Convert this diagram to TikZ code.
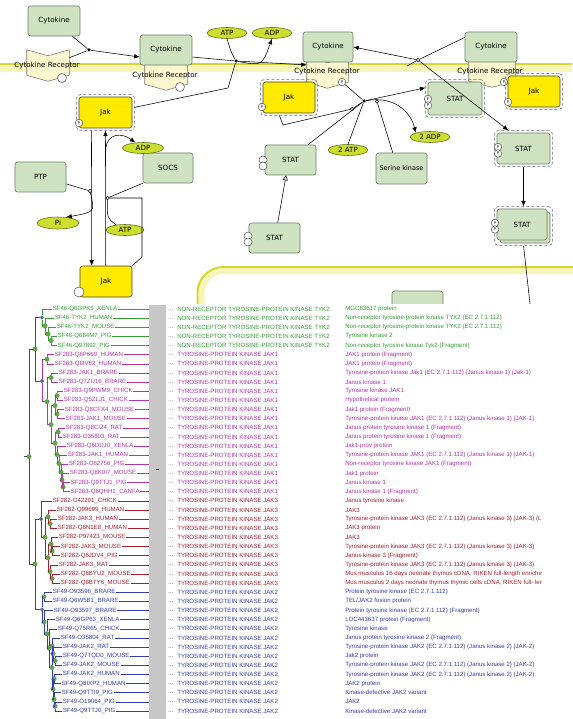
\documentclass[tikz,border=0pt]{standalone}
\usepackage{fontspec}
\setmainfont{DejaVu Sans}
\newfontfamily\tabfont{Liberation Sans}
\usetikzlibrary{positioning,arrows.meta,shapes.geometric,calc,fit}

\definecolor{protfill}{RGB}{207,227,195}
\definecolor{boxline}{RGB}{105,125,100}
\definecolor{jakfill}{RGB}{255,234,0}
\definecolor{molfill}{RGB}{204,222,46}
\definecolor{molline}{RGB}{95,105,25}
\definecolor{rcpfill}{RGB}{253,247,207}
\definecolor{memdark}{RGB}{214,214,52}
\definecolor{memlight}{RGB}{246,246,186}
\definecolor{greycol}{RGB}{200,200,200}
\definecolor{tykc}{RGB}{52,160,52}
\definecolor{jak1c}{RGB}{178,52,170}
\definecolor{jak3c}{RGB}{166,32,44}
\definecolor{jak2c}{RGB}{52,62,178}
\definecolor{dotgreen}{RGB}{86,176,52}
\definecolor{dotblue}{RGB}{52,104,204}

\newcommand{\pwfont}{\fontsize{7.1}{8}\selectfont}
\newcommand{\tabsize}{\tabfont\fontsize{6.1}{7}\selectfont}

\tikzset{
protnode/.style={rectangle, rounded corners=2.5pt, draw=boxline, fill=protfill, minimum width=52pt, minimum height=30pt, inner sep=0pt, font=\pwfont},
jaknode/.style={protnode, fill=jakfill, draw=black!75},
molnode/.style={ellipse, draw=molline, fill=molfill, minimum width=40pt, minimum height=11pt, inner sep=0pt, font=\pwfont},
rcpbox/.style={rectangle, inner sep=0pt, minimum width=42pt, minimum height=31pt},
rcpt/.style={draw=black!55, fill=rcpfill},
rcplbl/.style={font=\pwfont, inner sep=0pt},
dashframe/.style={draw=black!60, densely dashed, rounded corners=3pt, inner sep=2pt},
phos/.style={circle, draw=black!65, fill=white, inner sep=0pt, minimum size=7.5pt, font=\fontsize{3.8}{4}\selectfont},
emptysite/.style={circle, draw=black!65, fill=white, inner sep=0pt, minimum size=8pt},
rxdot/.style={circle, fill=black, inner sep=0pt, minimum size=3.5pt},
rxopen/.style={circle, draw=black, fill=white, inner sep=0pt, minimum size=3.5pt, line width=0.4pt},
leaflbl/.style={anchor=west, inner sep=0.5pt, font=\tabsize},
collbl/.style={anchor=west, inner sep=0pt, font=\tabsize},
gdot/.style={circle, fill=dotgreen, draw=black!55, line width=0.3pt, inner sep=0pt, minimum size=4.5pt},
bdot/.style={circle, fill=dotblue, draw=black!55, line width=0.3pt, inner sep=0pt, minimum size=3.8pt},
>={Latex[width=4.5pt,length=5.5pt]}
}

% receptor outline drawn round an empty box node
\newcommand{\rcpshape}[1]{%
\path[rcpt] (#1.north west) -- ($(#1.north)+(0,6)$) -- (#1.north east) -- ($(#1.south east)+(0,-6)$) -- (#1.south) -- ($(#1.south west)+(0,-6)$) -- cycle;}

% one family of rows in the table
\newcommand{\famrows}[3]{%
\foreach \i/\lx/\lbl/\desc in {#3}{%
  \pgfmathsetmacro{\ry}{309+(\i-1)*9.136}
  \node[leaflbl, text=#1] (r\i) at(\lx,\ry) {\lbl};
  \node[collbl, text=#1] (e\i) at(168,\ry+0.8) {...};
  \node[collbl, text=#1] (c\i) at(177,\ry) {#2};
  \node[collbl, text=#1] (d\i) at(345,\ry) {\desc};
  \draw[#1, line width=0.5pt] (r\i.east) -- (r\i.east -| gcol.west);
}}

\begin{document}
\begin{tikzpicture}[x=1pt, y=-1pt, line width=0.55pt]
\useasboundingbox (0,0) rectangle (572,719);

%Membranes
\fill[memlight] (0,63.5) rectangle (572,72);
\draw[memdark, line width=1.8pt] (0,64.4) -- (572,64.4);
\draw[memlight, line width=6pt, rounded corners=22pt] (201.5,330) |- (580,271);
\draw[memdark, line width=2pt, rounded corners=26pt] (197.5,330) |- (580,267);

%Receptors
\node[rcpbox] (rec1) at(48,65.5) {};
\node[rcpbox] (rec2) at(166,74.5) {};
\node[rcpbox, minimum width=41pt] (rec3) at(327.5,72.5) {};
\node[rcpbox, minimum width=46pt] (rec4) at(492,71.5) {};
\foreach \r in {rec1,rec2,rec3,rec4} \rcpshape{\r};

%Cytokines
\node[protnode] (cyt1) at(54,21) {Cytokine};
\node[protnode] (cyt2) at(166,50) {Cytokine};
\node[protnode, minimum width=50pt] (cyt3) at(328,47) {Cytokine};
\node[protnode] (cyt4) at(491,47) {Cytokine};

\node[rcplbl] (rl1) at(47,66) {Cytokine Receptor};
\node[rcplbl] (rl2) at(165,76) {Cytokine Receptor};
\node[rcplbl] (rl3) at(327,72) {Cytokine Receptor};
\node[rcplbl] (rl4) at(490,72) {Cytokine Receptor};

\node[emptysite, minimum size=9pt] (rs1) at(62,78) {};
\node[emptysite, minimum size=9pt] (rs2) at(180,87) {};
\node[phos] (rp3) at(342,82) {P};
\node[phos] (rp4) at(504,82) {P};

%Jak
\node[jaknode, minimum width=53pt, minimum height=31pt] (jak1) at(105.5,112.5) {Jak};
\node[jaknode, minimum height=31pt] (jak2) at(289,97.5) {Jak};
\node[jaknode, minimum height=31pt] (jak3) at(534,91.5) {Jak};
\node[jaknode, minimum height=31pt] (jak4) at(106,281.5) {Jak};
\node[dashframe, fit=(jak1)] (jak1o) {};
\node[dashframe, fit=(jak2)] (jak2o) {};
\node[dashframe, fit=(jak3)] (jak3o) {};
\node[phos] (jak1p) at(79,123) {P};
\node[phos] (jak2p) at(262,107) {P};
\node[phos] (jak3p) at(508,102) {P};
\node[emptysite, minimum size=10pt] (jak4s) at(79,292) {};

%STAT
\node[protnode, minimum width=54pt, minimum height=33pt] (stat1) at(455,98.5) {STAT};
\node[protnode, minimum width=51pt] (stat2) at(290.5,160) {STAT};
\node[protnode, minimum width=51pt] (stat3) at(274.5,238) {STAT};
\node[protnode, minimum width=53pt, minimum height=31pt] (stat4) at(523.5,148.5) {STAT};
\node[protnode, minimum width=50pt, minimum height=31pt] (stat5b) at(525,227.5) {};
\node[protnode, minimum width=50pt, minimum height=31pt] (stat5) at(522,224.5) {STAT};
\node[dashframe, fit=(stat1)] (stat1o) {};
\node[dashframe, fit=(stat4)] (stat4o) {};
\node[dashframe, fit=(stat5)(stat5b)] (stat5o) {};
\node[phos] (s1a) at(428,99) {P};
\node[phos] (s1b) at(428,105.5) {P};
\node[phos] (s4a) at(498,147) {P};
\node[phos] (s4b) at(498,153.5) {P};
\node[phos] (s5a) at(495,223) {P};
\node[phos] (s5b) at(495,229.5) {P};
\node[emptysite] (s2a) at(263,160) {};
\node[emptysite] (s2b) at(263,166) {};
\node[emptysite] (s3a) at(248,236) {};
\node[emptysite] (s3b) at(248,242) {};

%Other proteins
\node[protnode, minimum width=50pt] (socs) at(168,168) {SOCS};
\node[protnode, minimum width=51pt] (ptp) at(40.5,177) {PTP};
\node[protnode, minimum width=51pt, minimum height=31pt, font=\fontsize{6.5}{8}\selectfont] (serk) at(401.5,168.5) {Serine kinase};
\node[protnode, minimum width=51pt] (pias) at(417.5,306) {};

%Small molecules
\node[molnode] (atp1) at(227,33) {ATP};
\node[molnode] (adp1) at(272,33) {ADP};
\node[molnode, minimum width=41pt] (adp2) at(143,148) {ADP};
\node[molnode, minimum width=38pt] (atp2) at(125,230) {ATP};
\node[molnode, minimum width=42pt, minimum height=12pt] (phosi) at(58,223) {Pi};
\node[molnode] (adp3) at(430,137) {2 ADP};
\node[molnode] (atp3) at(348,150) {2 ATP};

% links between the two Jak boxes
\draw[->] ([xshift=15pt]jak1o.south west) -- ([xshift=12pt]jak4.north west);
\draw[->] ([xshift=26pt]jak4.north west) -- ([xshift=29pt]jak1o.south west);

%Reaction points
\node[rxdot] (d1) at(89,50) {};
\node[rxdot] (d2) at(236,61) {};
\node[rxdot] (d3) at(364,101) {};
\node[rxopen] (o1) at(418,60) {};
\node[rxopen] (o2) at(377,101.5) {};
\node[rxopen] (o3) at(352,109) {};
\node[rxopen] (o4) at(90,191) {};
\node[rxopen] (o5) at(107.5,198) {};
\coordinate (k1) at(228,88);
\coordinate (k2) at(283,125);
\coordinate (k3) at(142,198);
\coordinate (k4) at(142,257);
\coordinate (m1) at(407,66);
\coordinate (m2) at(530,304);
\coordinate (c1) at(106,147);

% binding and phosphorylation
\draw (cyt1) -- (d1);
\draw (rec1.20) -- (d1);
\draw[->] (d1) -- (cyt2.195);
\draw (cyt2.345) -- (d2);
\draw[->] (d2) -- (rec3.160);
\draw (atp1.south) .. controls (231,52) .. (d2);
\draw[->] (d2) .. controls (262,66) .. (adp1.south);
\draw (jak1o.10) -- (k1) -- (d2);

\draw (cyt4.160) -- (o1);
\draw[->] (o1) -- (cyt3.east);
\draw[->] (o1) -- (stat4o.130);
\draw (o1) -- (m1);

\draw (rp3) -- (d3);
\draw[->] (d3) -- (stat1o.160);
\draw[->] (d3) .. controls (398,95) and (412,116) .. (adp3.north west);
\draw (atp3.north) -- (d3);
\draw (stat2.41) -- (d3);
\draw (serk.119) -- (o2);
\draw (jak2o.242) -- (k2) -- (o3) -- (d3);

\draw[->] (stat4o.south) -- (stat5o.north);
\draw (stat5o.south) -- (m2);
\draw[-{Triangle[open,width=5pt,length=5pt]}] (stat3.78) -- (stat2.254);

% SOCS and PTP
\draw (socs.south west) -- (o5);
\draw (o5) -- (k3) -- (k4) -- (jak4.north east);
\draw (o5) .. controls (107,218) .. (atp2.150);
\draw[->] (c1) .. controls (108,134) and (121,132) .. (adp2.145);
\draw (ptp.345) -- (o4);
\draw[->] (o4) .. controls (95,212) .. (phosi.35);

%Table window
\fill[white] (0,304) rectangle (572,719);
\node[fill=greycol, inner sep=0pt, minimum width=17pt, minimum height=414pt, anchor=north west] (gcol) at(149,305) {};
\fill[black!70] (156,468.6) rectangle (158.6,469.6);

\famrows{tykc}{NON-RECEPTOR TYROSINE-PROTEIN KINASE TYK2}{
1/52/SF46-Q6GPK5\_XENLA/MGC83617 protein,
2/54/SF46-TYK2\_HUMAN/Non-receptor tyrosine-protein kinase TYK2 (EC 2.7.1.112),
3/56/SF46-TYK2\_MOUSE/Non-receptor tyrosine-protein kinase TYK2 (EC 2.7.1.112),
4/57/SF46-Q684M7\_PIG/Tyrosine kinase 2,
5/57/SF46-Q97892\_PIG/Non-receptor tyrosine kinase Tyk2 (Fragment)}

\famrows{jak1c}{TYROSINE-PROTEIN KINASE JAK1}{
6/54/SF283-Q6P669\_HUMAN/JAK1 protein (Fragment),
7/54/SF283-Q8IV82\_HUMAN/JAK1 protein (Fragment),
8/58/SF283-JAK1\_BRARE/Tyrosine-protein kinase Jak1 (EC 2.7.1.112) (Janus kinase 1) (Jak-1),
9/58/SF283-Q7ZU16\_BRARE/Janus kinase 1,
10/63/SF283-Q9PWM9\_CHICK/Tyrosine kinase JAK1,
11/63/SF283-Q5ZLJ1\_CHICK/Hypothetical protein,
12/64/SF283-Q8CFX4\_MOUSE/Jak1 protein (Fragment),
13/65/SF283-JAK1\_MOUSE/Tyrosine-protein kinase JAK1 (EC 2.7.1.112) (Janus kinase 1) (JAK-1),
14/65/SF283-Q8CIZ4\_RAT/Janus protein tyrosine kinase 1 (Fragment),
15/62/SF283-O35803\_RAT/Janus protein tyrosine kinase 1 (Fragment),
16/66/SF283-Q6DDJ0\_XENLA/Jak1-prov protein,
17/67/SF283-JAK1\_HUMAN/Tyrosine-protein kinase JAK1 (EC 2.7.1.112) (Janus kinase 1) (JAK-1),
18/68/SF283-O62756\_PIG/Non-receptor tyrosine kinase JAK1 (Fragment),
19/69/SF283-Q8K0I7\_MOUSE/Jak1 protein,
20/70/SF283-Q9TTJ1\_PIG/Janus kinase 1,
21/70/SF283-Q6QHH1\_CANFA/Janus kinase 1 (Fragment)}

\famrows{jak3c}{TYROSINE-PROTEIN KINASE JAK3}{
22/52/SF282-O42291\_CHICK/Janus tyrosine kinase,
23/56/SF282-Q99699\_HUMAN/JAK3,
24/57/SF282-JAK3\_HUMAN/Tyrosine-protein kinase JAK3 (EC 2.7.1.112) (Janus kinase 3) (JAK-3) (L,
25/57/SF282-Q8N1E8\_HUMAN/JAK3 protein,
26/58/SF282-P97423\_MOUSE/JAK3,
27/60/SF282-JAK3\_MOUSE/Tyrosine-protein kinase JAK3 (EC 2.7.1.112) (Janus kinase 3) (JAK-3),
28/60/SF282-Q6JDV4\_PIG/Janus kinase 3 (Fragment),
29/58/SF282-JAK3\_RAT/Tyrosine-protein kinase JAK3 (EC 2.7.1.112) (Janus kinase 3) (JAK-3),
30/60/SF282-Q8BYU2\_MOUSE/{Mus musculus 16 days neonate thymus cDNA, RIKEN full-length enriche},
31/60/SF282-Q8BTY6\_MOUSE/{Mus musculus 2 days neonate thymus thymic cells cDNA, RIKEN full- ler}}

\famrows{jak2c}{TYROSINE-PROTEIN KINASE JAK2}{
32/52/SF49-O93596\_BRARE/Protein tyrosine kinase (EC 2.7.1.112),
33/52/SF49-Q6W5B1\_BRARE/{TEL/JAK2 fusion protein},
34/53/SF49-O93597\_BRARE/Protein tyrosine kinase (EC 2.7.1.112) (Fragment),
35/55/SF49-Q6GP63\_XENLA/LOC443637 protein (Fragment),
36/57/SF49-Q75R65\_CHICK/Tyrosine kinase,
37/60/SF49-O35804\_RAT/Janus protein tyrosine kinase 2 (Fragment),
38/62/SF49-JAK2\_RAT/Tyrosine-protein kinase JAK2 (EC 2.7.1.112) (Janus kinase 2) (JAK-2),
39/62/SF49-Q7TQD0\_MOUSE/Jak2 protein,
40/62/SF49-JAK2\_MOUSE/Tyrosine-protein kinase JAK2 (EC 2.7.1.112) (Janus kinase 2) (JAK-2),
41/62/SF49-JAK2\_HUMAN/Tyrosine-protein kinase JAK2 (EC 2.7.1.112) (Janus kinase 2) (JAK-2),
42/61/SF49-Q8IXP2\_HUMAN/JAK2 protein,
43/61/SF49-Q9TTI9\_PIG/Kinase-defective JAK2 variant,
44/62/SF49-O19064\_PIG/JAK2,
45/62/SF49-Q9TTJ0\_PIG/Kinase-defective JAK2 variant}

%Tree nodes
\foreach \n/\px/\py in {t1/45/326, t2/48/334, t3/51/340.5,
  ja/47/359.3, jb/47/401.7, jc/51/377.5, jd/51/424.5, je/55/405.5, jf/57/395.7, jg/57/414,
  jh/55/443.3, ji/58/432, jj/57/454.5, jk/59/463.5, jl/61/472, jm/62/480, jn/63/487,
  ka/45/537.3, kb/48/516.8, kc/50/523.6, kd/48/557.8, ke/51/544, kf/52/551, kg/50/571.6, kh/52/578.5,
  ma/44/596.7, mb/44/622, mc/47/633.8, md/49/648, me/52/667.5, mf/52/646, mg/53/653.5,
  mh/55/660.6, mi/53/689, mj/54/678.9, mk/54/699.5, ml/55/706.3,
  nA/35/349, nB/35/564, root/29/456.5}
  \node[gdot] (\n) at(\px,\py) {};
\foreach \n/\px/\py in {t0/42/317.5, j0/42/381, k0/41/519, m0/42/609.4}
  \node[bdot] (\n) at(\px,\py) {};
\coordinate (stub) at(24,456.5);

%Tree branches
\foreach \a/\b in {stub/root, root/nA, root/nB, nA/t0, nA/j0, nB/k0, nB/m0}
  \draw[black!70, line width=0.5pt] (\a) |- (\b);
\foreach \a/\b in {t0/r1, t0/t1, t1/r2, t1/t2, t2/r3, t2/t3, t3/r4, t3/r5}
  \draw[tykc, line width=0.5pt] (\a) |- (\b);
\foreach \a/\b in {j0/ja, j0/jb, ja/r6, ja/r7, jb/jc, jb/jd, jc/r8, jc/r9, jd/je, jd/jh,
  je/jf, je/jg, jf/r10, jf/r11, jg/r12, jg/r13, jh/ji, jh/jj, ji/r14, ji/r15, jj/r16, jj/jk,
  jk/r17, jk/jl, jl/r18, jl/jm, jm/r19, jm/jn, jn/r20, jn/r21}
  \draw[jak1c, line width=0.5pt] (\a) |- (\b);
\foreach \a/\b in {k0/r22, k0/ka, ka/kb, ka/kd, kb/r23, kb/kc, kc/r24, kc/r25, kd/ke, kd/kg,
  ke/r26, ke/kf, kf/r27, kf/r28, kg/r29, kg/kh, kh/r30, kh/r31}
  \draw[jak3c, line width=0.5pt] (\a) |- (\b);
\foreach \a/\b in {m0/ma, m0/mb, ma/r32, ma/r33, mb/r34, mb/mc, mc/r35, mc/md, md/r36, md/me,
  me/mf, me/mi, mf/r37, mf/mg, mg/r38, mg/mh, mh/r39, mh/r40, mi/mj, mi/mk, mj/r41, mj/r42,
  mk/r43, mk/ml, ml/r44, ml/r45}
  \draw[jak2c, line width=0.5pt] (\a) |- (\b);

\end{tikzpicture}
\end{document}
